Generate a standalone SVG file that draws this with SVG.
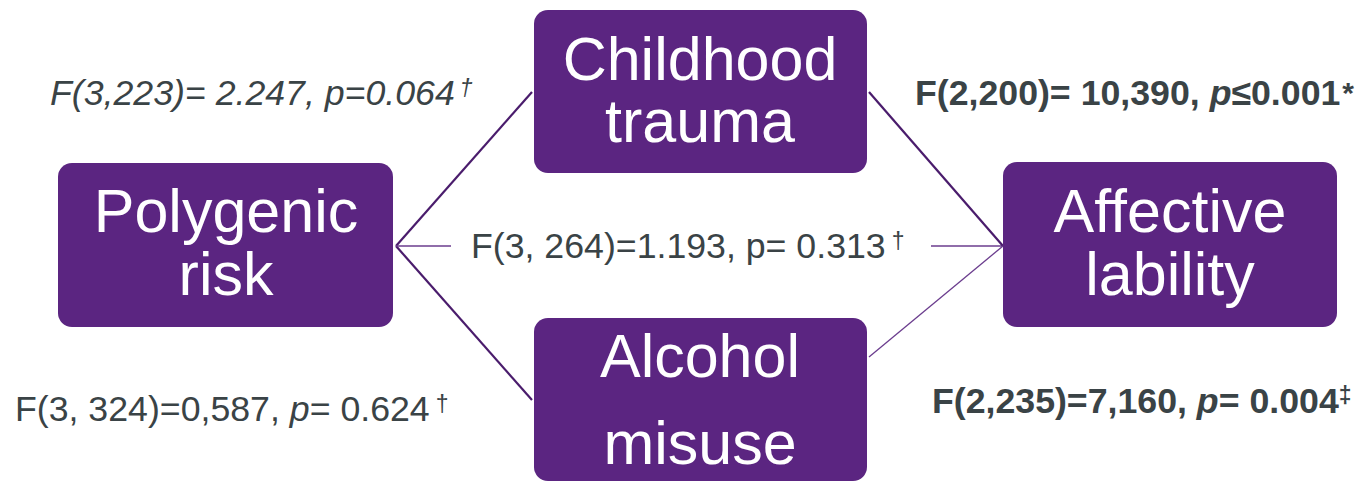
<svg xmlns="http://www.w3.org/2000/svg" width="1362" height="481" viewBox="0 0 1362 481">
<style>
.box{fill:#5B2581}
.nt{font-family:"Liberation Sans",Arial,sans-serif;font-size:61px;fill:#ffffff;text-anchor:middle}
.lb{font-family:"Liberation Sans",Arial,sans-serif;font-size:35.7px;fill:#3A4346}
.b{font-weight:bold}
.i{font-style:italic}
.sup{font-size:23px}
.ast{font-size:30px}
.c1{stroke:#4A1C6C;stroke-width:2.2;fill:none}
.c2{stroke:#6B3D8E;stroke-width:1.3;fill:none}
</style>
<rect width="1362" height="481" fill="#ffffff"/>
<g id="connectors">
<line class="c1" x1="396" y1="246" x2="532" y2="92"/>
<line class="c1" x1="396" y1="246" x2="532" y2="400"/>
<line class="c2" x1="396" y1="246" x2="451" y2="246"/>
<line class="c2" x1="931" y1="246" x2="1003" y2="246"/>
<line class="c1" x1="869" y1="92" x2="1003" y2="246"/>
<line class="c2" x1="869" y1="357" x2="1003" y2="246"/>
</g>
<g id="polygenic">
<rect class="box" x="58" y="163" width="335" height="164" rx="14"/>
<text class="nt" x="226" y="232">Polygenic</text>
<text class="nt" x="226" y="295">risk</text>
</g>
<g id="childhood">
<rect class="box" x="534" y="10" width="333" height="163" rx="14"/>
<text class="nt" x="700" y="80">Childhood</text>
<text class="nt" x="700" y="142">trauma</text>
</g>
<g id="alcohol">
<rect class="box" x="534" y="318" width="333" height="163" rx="14"/>
<text class="nt" x="700" y="377">Alcohol</text>
<text class="nt" x="700" y="464">misuse</text>
</g>
<g id="affective">
<rect class="box" x="1003" y="162" width="334" height="165" rx="14"/>
<text class="nt" x="1170" y="232">Affective</text>
<text class="nt" x="1170" y="295">lability</text>
</g>
<g id="labels">
<text class="lb i" x="50" y="105">F(3,223)= 2.247, p=0.064<tspan class="sup" dx="5" dy="-9">†</tspan></text>
<text class="lb" x="471" y="258">F(3, 264)=1.193, p= 0.313<tspan class="sup" dx="6" dy="-9">†</tspan></text>
<text class="lb" x="15" y="421">F(3, 324)=0,587, <tspan class="i">p</tspan>= 0.624<tspan class="sup" dx="6" dy="-9">†</tspan></text>
<text class="lb b" x="915" y="105">F(2,200)= 10,390, <tspan class="i">p</tspan>≤0.001<tspan class="ast" dx="2" dy="-2">*</tspan></text>
<text class="lb b" x="932" y="413">F(2,235)=7,160, <tspan class="i">p</tspan>= 0.004<tspan class="sup" dy="-10">‡</tspan></text>
</g>
</svg>
